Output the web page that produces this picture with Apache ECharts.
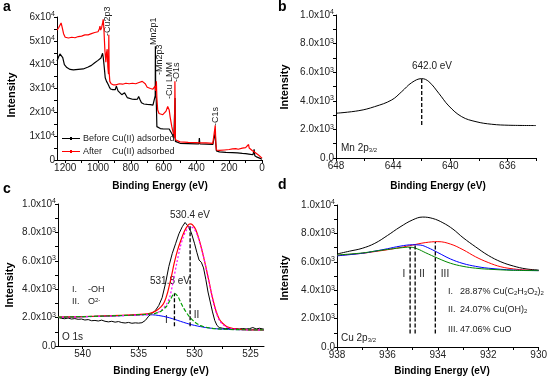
<!DOCTYPE html>
<html><head><meta charset="utf-8">
<script src="https://cdn.jsdelivr.net/npm/echarts@6/dist/echarts.min.js"></script>
<style>html,body{margin:0;padding:0;background:#fff}#c{width:550px;height:386px}</style>
</head><body><div id="c"></div>
<script>
// ---------- Panel a : survey spectra (intensity in 1e4 counts) ----------
const surveyBeforeE = [1250,1240,1232,1225,1215,1205,1190,1170,1150,1120,1090,1060,1040,1020,1000,990,982,976,972,968,962,956,948,940,932,924,910,895,888,884,878,870,855,845,838,832,822,810,790,775,760,752,745,735,720,700,680,665,656,651,650,648,645,641,636,620,600,580,566,556,546,538,532,530,528,522,500,450,400,385,382,379,340,300,290,285,282,278,260,220,180,150,120,100,80,55,48,44,30,15,5,0];
const surveyBeforeI = [4.15,4.33,4.45,4.52,4.3,4.0,3.88,3.8,3.78,3.8,3.82,3.9,3.97,4.08,4.18,4.22,4.28,4.2,4.48,4.3,3.9,3.45,3.3,3.2,3.08,2.98,2.95,2.95,3.1,3.18,2.9,2.85,2.74,2.72,2.82,2.78,2.62,2.57,2.55,2.54,2.55,2.66,2.55,2.4,2.35,2.33,2.32,2.3,2.33,2.7,4.77,2.7,2.6,1.4,1.33,1.32,1.3,1.3,1.3,1.25,1.06,0.9,0.85,2.6,0.78,0.72,0.7,0.69,0.68,0.68,0.92,0.68,0.67,0.65,0.66,1.15,0.7,0.38,0.34,0.32,0.31,0.3,0.28,0.27,0.25,0.22,0.45,0.18,0.12,0.08,0.05,0.03];
const surveyAfterE = [1250,1240,1232,1225,1218,1210,1200,1180,1160,1140,1120,1100,1080,1060,1040,1020,1000,992,988,984,978,972,968,964,958,952,948,944,940,936,934,932,928,920,905,890,870,850,830,810,790,770,750,730,720,712,700,680,665,655,652,648,644,641,636,628,618,605,595,585,575,570,566,560,550,540,533,531,528,520,500,450,400,380,340,300,290,285,282,278,260,230,200,180,160,150,145,120,100,90,82,78,60,40,20,10,0];
const surveyAfterI = [5.45,5.55,5.62,5.75,5.55,5.3,5.15,5.12,5.15,5.13,5.18,5.2,5.25,5.25,5.3,5.35,5.38,5.5,5.62,5.45,5.55,5.75,5.9,5.5,4.6,4.1,4.5,4.65,3.9,3.6,5.25,3.7,3.3,3.2,3.15,3.15,3.2,3.18,3.22,3.2,3.22,3.2,3.25,3.3,3.35,3.2,3.05,3.0,2.97,3.0,3.1,2.9,3.3,2.6,2.1,1.95,1.88,1.9,1.98,2.05,2.25,2.3,2.1,1.8,1.4,1.1,0.95,3.3,0.85,0.78,0.76,0.74,0.73,0.72,0.72,0.7,0.72,1.45,0.8,0.42,0.4,0.42,0.44,0.47,0.48,0.55,0.45,0.5,0.52,0.55,0.65,0.5,0.4,0.3,0.2,0.12,0.08];
const seriesNamesA = ['Before Cu(II) adsorbed', 'After    Cu(II) adsorbed'];
const peakLabelsA = ['-Cu2p3','Mn2p1','-Mn2p3','-Cu LMM','-O1s','-C1s'];

// ---------- Panel b : Mn 2p3/2 (intensity in 1e3) ----------
const mnE = [648,646.4,645.3,644.1,643.4,642.7,642.0,641.5,640.8,640.1,639.2,638.2,637.1,635.9,634];
const mnI = [3.13,3.31,3.59,4.06,4.64,5.27,5.55,5.34,4.52,3.64,2.89,2.54,2.36,2.29,2.27];
const mnPeakE = 642.0, mnPeakLow = 2.31, mnPeakHigh = 5.55;

// ---------- Panel c : O 1s (intensity in 1e3) ----------
const o1sExpE = [542.2,541.9,541.6,541.3,541,540.7,540.4,540.1,539.8,539.5,539.2,538.9,538.6,538.3,538,537.7,537.4,537.1,536.8,536.5,536.2,535.9,535.6,535.3,535,534.7,534.4,534.1,533.8,533.5,533.2,532.9,532.6,532.3,532,531.7,531.4,531.1,530.85,530.6,530.3,530,529.8,529.6,529.4,529.2,529,528.8,528.6,528.4,528.2,528,527.8,527.5,527.2,526.9,526.6,526.3,526,525.7,525.4,525.1,524.8,524.5,524.2,523.8];
const o1sExpI = [2.02,1.95,1.92,1.97,1.9,1.93,1.88,1.9,1.83,1.86,1.78,1.8,1.76,1.82,1.74,1.7,1.74,1.68,1.72,1.65,1.62,1.66,1.6,1.63,1.61,1.64,1.8,2.1,2.3,2.5,2.85,3.4,4.4,5.6,6.5,7.2,7.9,8.4,8.7,8.45,8.0,7.2,6.6,6.05,5.9,5.5,4.7,3.8,3.1,2.4,1.8,1.45,1.3,1.25,1.22,1.25,1.2,1.22,1.2,1.23,1.2,1.22,1.3,1.2,1.25,1.18];
const o1sFitE = [542.2,540,538,536,534.5,534,533.5,533,532.7,532.4,532.1,531.8,531.5,531.2,530.9,530.6,530.4,530.2,529.9,529.6,529.3,529,528.7,528.4,528.1,527.8,527.5,527.1,526.5,526,525,523.8];
const o1sFitI = [2.03,2.07,2.12,2.17,2.24,2.3,2.45,2.75,3.1,3.8,4.8,5.9,6.8,7.5,8.1,8.5,8.6,8.55,8.2,7.5,6.6,5.6,4.5,3.4,2.5,1.9,1.6,1.35,1.22,1.17,1.14,1.14];
const o1sPeak2E = [542.2,538,535,534,533.5,533,532.5,532.2,531.9,531.6,531.3,531,530.7,530.4,530.1,529.8,529.5,529.2,528.9,528.6,528.3,528,527.7,527.3,527,526.5,526,525,523.8];
const o1sPeak2I = [2.02,2.1,2.18,2.22,2.3,2.5,2.95,3.5,4.6,5.8,6.9,7.7,8.2,8.4,8.3,7.9,7.2,6.3,5.2,4.1,3.0,2.2,1.7,1.4,1.28,1.2,1.16,1.14,1.14];
const o1sPeak1E = [542.2,540,538,536,534.5,534,533.5,533,532.5,532.2,531.8,531.5,531.2,531,530.5,530,529.5,529,528.5,528,527,526,525,523.8];
const o1sPeak1I = [2.03,2.07,2.11,2.16,2.22,2.25,2.3,2.45,2.8,3.2,3.7,3.5,3.0,2.7,2.1,1.7,1.45,1.32,1.25,1.21,1.17,1.15,1.14,1.14];
const o1sBgE = [542.2,540,538,536,534.5,534,533.5,533,532.5,532,531.5,531,530.5,530,529.5,529,528.5,528,527,526,525,523.8];
const o1sBgI = [2.02,2.06,2.1,2.15,2.2,2.2,2.18,2.12,2.04,1.93,1.8,1.67,1.55,1.45,1.37,1.3,1.25,1.21,1.17,1.15,1.14,1.14];
const o1sMarkE = [531.8, 530.4];
const o1sMarkLow = [1.39, 1.39];
const o1sMarkHigh = [3.7, 8.55];
const o1sTexts = ['530.4 eV','531.8 eV','-OH'];

// ---------- Panel d : Cu 2p3/2 (intensity in 1e3) ----------
const cuTotE = [938,937.5,937,936.5,936,935.5,935,934.6,934.2,933.8,933.4,933,932.5,932,931.5,931,930.5,930];
const cuTotI = [6.55,6.75,6.95,7.3,7.85,8.45,8.95,9.15,9.05,8.75,8.3,7.7,7.05,6.45,6.0,5.7,5.5,5.42];
const cuOE = [938,937,936.5,936,935.5,935,934.5,934,933.5,933,932.5,932,931.5,931,930.5,930];
const cuOI = [6.45,6.6,6.72,6.85,7.0,7.18,7.35,7.42,7.25,6.85,6.35,5.95,5.65,5.5,5.42,5.38];
const cuOHE = [938,937,936.5,936,935.5,935,934.7,934.4,934,933.5,933,932.5,932,931,930];
const cuOHI = [6.42,6.6,6.75,6.92,7.1,7.2,7.18,7.0,6.65,6.2,5.88,5.68,5.55,5.42,5.38];
const cuAcE = [938,937,936.5,936,935.5,935.1,934.8,934.5,934,933.5,933,932.5,932,931,930];
const cuAcI = [6.48,6.62,6.75,6.87,6.98,7.03,6.9,6.65,6.25,5.9,5.68,5.55,5.48,5.4,5.38];
const cuMarkE = [935.1, 934.9, 934.1];
const cuMarkLow = [0.95, 0.95, 0.95];
const cuMarkHigh = [7.05, 7.2, 7.4];
const cuLegendNum = ['I.','II.','III.'];
const cuLegendTxt = ['28.87% Cu(C{s|2}H{s|3}O{s|2}){s|2}','24.07% Cu(OH){s|2}','47.06% CuO'];

// ---------- Tick values ----------
const ticksAx = [0,100,200,300,400,500,600,700,800,900,1000,1100,1200];
const labelsAx = [0,200,400,600,800,1000,1200];
const ticksAy = [0,5000,10000,15000,20000,25000,30000,35000,40000,45000,50000,55000,60000];
const labelsAy = [0,10000,20000,30000,40000,50000,60000];
const ticksBx = [634,636,638,640,642,644,646,648];
const labelsBx = [636,640,644,648];
const ticksCx = [525,527.5,530,532.5,535,537.5,540];
const labelsCx = [525,530,535,540];
const ticksDx = [930,931,932,933,934,935,936,937,938];
const labelsDx = [930,932,934,936,938];
const ticksY = [0,1000,2000,3000,4000,5000,6000,7000,8000,9000,10000];
const labelsY = [0,2000,4000,6000,8000,10000];

// ---------- helpers ----------
const FONT = 'Liberation Sans, Arial, sans-serif';
const pairs = (E, I, k) => E.map((e, i) => [e, I[i] * k]);
const supRich = { s: { fontSize: 7, verticalAlign: 'top', lineHeight: 12, fontFamily: FONT, color: '#222' } };
function xAxis(gi, min, max, ticks, labels) {
  return { type: 'value', gridIndex: gi, min, max, inverse: true,
    axisLine: { show: true, onZero: false, lineStyle: { color: '#000', width: 1 } },
    axisTick: { show: true, customValues: ticks, length: 3, lineStyle: { color: '#000' } },
    axisLabel: { customValues: labels, fontSize: 10, color: '#222', margin: 3, fontFamily: FONT, formatter: v => String(v) },
    splitLine: { show: false } };
}
function yAxis(gi, max, ticks, labels, fmt) {
  return { type: 'value', gridIndex: gi, min: 0, max,
    axisLine: { show: true, onZero: false, lineStyle: { color: '#000', width: 1 } },
    axisTick: { show: true, customValues: ticks, length: 3, lineStyle: { color: '#000' } },
    axisLabel: { customValues: labels, fontSize: 10, color: '#222', margin: 2, fontFamily: FONT, lineHeight: 12, formatter: fmt, rich: supRich },
    splitLine: { show: false } };
}
const fmtA = v => v === 0 ? '0' : (v / 10000) + 'x10{s|4}';
const fmtY = v => v === 0 ? '0.0' : (v === 10000 ? '1.0x10{s|4}' : (v / 1000).toFixed(1) + 'x10{s|3}');
function line(name, data, xi, color, opts) {
  return Object.assign({ name, type: 'line', xAxisIndex: xi, yAxisIndex: xi, data, symbol: 'none', showSymbol: false,
    lineStyle: { color, width: 1 }, itemStyle: { color }, silent: true, animation: false, z: 2 }, opts || {});
}
function vmark(name, xi, e, lo, hi, k) {
  return line(name, [[e, lo * k], [e, hi * k]], xi, '#000', { lineStyle: { color: '#000', width: 1.3, type: [4, 2] } });
}
function txt(t, x, y, o) {
  return Object.assign({ type: 'text', x, y, silent: true,
    style: Object.assign({ text: t, fontSize: 10, fontFamily: FONT, fill: '#222', align: 'left', verticalAlign: 'middle',
      rich: { s: { fontSize: 6, verticalAlign: 'bottom', fontFamily: FONT, fill: '#222' }, p: { fontSize: 6, verticalAlign: 'top', fontFamily: FONT, fill: '#222' } } }, (o && o.style) || {}) },
    o ? { rotation: o.rotation || 0 } : {});
}

const chart = echarts.init(document.getElementById('c'), null, { renderer: 'canvas' });
const series = [
  // panel a
  line(seriesNamesA[0], pairs(surveyBeforeE, surveyBeforeI, 10000), 0, '#000', { lineStyle: { color: '#000', width: 1.2 } }),
  line(seriesNamesA[1], pairs(surveyAfterE, surveyAfterI, 10000), 0, '#ff0000', { lineStyle: { color: '#ff0000', width: 1.2 } }),
  // panel b
  line('mn', pairs(mnE, mnI, 1000), 1, '#000', { smooth: 0.4 }),
  vmark('mnmark', 1, mnPeakE, mnPeakLow, mnPeakHigh, 1000),
  // panel c
  line('o1sExp', pairs(o1sExpE, o1sExpI, 1000), 2, '#000'),
  line('o1sBg', pairs(o1sBgE, o1sBgI, 1000), 2, '#0000ff', { smooth: 0.3 }),
  line('o1sFit', pairs(o1sFitE, o1sFitI, 1000), 2, '#ff0000', { smooth: 0.3, lineStyle: { color: '#ff0000', width: 1.2 } }),
  line('o1sP2', pairs(o1sPeak2E, o1sPeak2I, 1000), 2, '#ff00ff', { smooth: 0.3, lineStyle: { color: '#ff00ff', width: 1.2, type: [2, 2] } }),
  line('o1sP1', pairs(o1sPeak1E, o1sPeak1I, 1000), 2, '#00a000', { smooth: 0.3, lineStyle: { color: '#00a000', width: 1.2, type: [4, 2] } }),
  vmark('o1sm1', 2, o1sMarkE[0], o1sMarkLow[0], o1sMarkHigh[0], 1000),
  vmark('o1sm2', 2, o1sMarkE[1], o1sMarkLow[1], o1sMarkHigh[1], 1000),
  // panel d
  line('cuTot', pairs(cuTotE, cuTotI, 1000), 3, '#000', { smooth: 0.4 }),
  line('cuO', pairs(cuOE, cuOI, 1000), 3, '#ff0000', { smooth: 0.4 }),
  line('cuOH', pairs(cuOHE, cuOHI, 1000), 3, '#0000ff', { smooth: 0.4 }),
  line('cuAc', pairs(cuAcE, cuAcI, 1000), 3, '#008800', { smooth: 0.4 }),
  vmark('cum1', 3, cuMarkE[0], cuMarkLow[0], cuMarkHigh[0], 1000),
  vmark('cum2', 3, cuMarkE[1], cuMarkLow[1], cuMarkHigh[1], 1000),
  vmark('cum3', 3, cuMarkE[2], cuMarkLow[2], cuMarkHigh[2], 1000)
];

const graphics = [
  txt('a', 3, 7, { style: { fontSize: 14, fontWeight: 'bold', fill: '#000' } }),
  txt('b', 278, 7, { style: { fontSize: 14, fontWeight: 'bold', fill: '#000' } }),
  txt('c', 3, 189, { style: { fontSize: 14, fontWeight: 'bold', fill: '#000' } }),
  txt('d', 278, 185, { style: { fontSize: 14, fontWeight: 'bold', fill: '#000' } }),
  // axis titles
  txt('Binding Energy (eV)', 160, 186, { style: { fontSize: 10, fontWeight: 'bold', fill: '#000', align: 'center' } }),
  txt('Binding Energy (eV)', 438, 186, { style: { fontSize: 10, fontWeight: 'bold', fill: '#000', align: 'center' } }),
  txt('Binding Energy (eV)', 161, 371, { style: { fontSize: 10, fontWeight: 'bold', fill: '#000', align: 'center' } }),
  txt('Binding Energy (eV)', 442, 371, { style: { fontSize: 10, fontWeight: 'bold', fill: '#000', align: 'center' } }),
  txt('Intensity', 12, 95, { rotation: Math.PI / 2, style: { fontSize: 11, fontWeight: 'bold', fill: '#000', align: 'center' } }),
  txt('Intensity', 285, 87, { rotation: Math.PI / 2, style: { fontSize: 11, fontWeight: 'bold', fill: '#000', align: 'center' } }),
  txt('Intensity', 10, 285, { rotation: Math.PI / 2, style: { fontSize: 11, fontWeight: 'bold', fill: '#000', align: 'center' } }),
  txt('Intensity', 285, 278, { rotation: Math.PI / 2, style: { fontSize: 11, fontWeight: 'bold', fill: '#000', align: 'center' } }),
  // panel a peak labels
  txt(peakLabelsA[0], 108, 36, { rotation: Math.PI / 2, style: { fontSize: 9 } }),
  txt(peakLabelsA[1], 154, 45, { rotation: Math.PI / 2, style: { fontSize: 9 } }),
  txt(peakLabelsA[2], 160, 75, { rotation: Math.PI / 2, style: { fontSize: 9 } }),
  txt(peakLabelsA[3], 170, 99, { rotation: Math.PI / 2, style: { fontSize: 9 } }),
  txt(peakLabelsA[4], 176.5, 82, { rotation: Math.PI / 2, style: { fontSize: 9 } }),
  txt(peakLabelsA[5], 216, 126, { rotation: Math.PI / 2, style: { fontSize: 9 } }),
  // panel b
  txt('642.0 eV', 432, 66, { style: { align: 'center' } }),
  txt('Mn 2p{s|3/2}', 341, 148),
  // panel c
  txt(o1sTexts[0], 190, 215, { style: { align: 'center' } }),
  txt(o1sTexts[1], 170, 281, { style: { align: 'center' } }),
  txt('I.', 72, 290, { style: { fontSize: 9 } }),
  txt(o1sTexts[2], 88, 290, { style: { fontSize: 9 } }),
  txt('II.', 72, 302, { style: { fontSize: 9 } }),
  txt('O{p|2-}', 88, 302, { style: { fontSize: 9 } }),
  txt('I', 165, 320),
  txt('II', 196.5, 315, { style: { align: 'center' } }),
  txt('O 1s', 62, 337),
  // panel d
  txt('I', 404, 274, { style: { align: 'center' } }),
  txt('II', 422, 274, { style: { align: 'center' } }),
  txt('III', 445, 274, { style: { align: 'center' } }),
  txt(cuLegendNum[0], 448, 292, { style: { fontSize: 9 } }),
  txt(cuLegendTxt[0], 460, 292, { style: { fontSize: 9 } }),
  txt(cuLegendNum[1], 448, 310, { style: { fontSize: 9 } }),
  txt(cuLegendTxt[1], 460, 310, { style: { fontSize: 9 } }),
  txt(cuLegendNum[2], 448, 330, { style: { fontSize: 9 } }),
  txt(cuLegendTxt[2], 460, 330, { style: { fontSize: 9 } }),
  txt('Cu 2p{s|3/2}', 341, 338)
];

chart.setOption({
  animation: false,
  backgroundColor: '#fff',
  textStyle: { fontFamily: FONT },
  grid: [
    { left: 57, top: 17, width: 205, height: 143 },
    { left: 336, top: 15, width: 200, height: 143 },
    { left: 58, top: 204, width: 206, height: 142 },
    { left: 337, top: 205, width: 211, height: 142 }
  ],
  xAxis: [
    xAxis(0, 0, 1250, ticksAx, labelsAx),
    xAxis(1, 634, 648, ticksBx, labelsBx),
    xAxis(2, 523.8, 542.2, ticksCx, labelsCx),
    xAxis(3, 930, 938, ticksDx, labelsDx)
  ],
  yAxis: [
    yAxis(0, 60000, ticksAy, labelsAy, fmtA),
    yAxis(1, 10000, ticksY, labelsY, fmtY),
    yAxis(2, 10000, ticksY, labelsY, fmtY),
    yAxis(3, 10000, ticksY, labelsY, fmtY)
  ],
  legend: {
    data: seriesNamesA, orient: 'vertical', left: 62, top: 134, itemGap: 4, itemWidth: 18, itemHeight: 5,
    icon: 'path://M0,2 L18,2 L18,3 L0,3 Z M8,1 L10,1 L10,4 L8,4 Z',
    textStyle: { fontSize: 9, color: '#222', fontFamily: FONT, padding: [0, 0, 0, -2] }, selectedMode: false, padding: 0
  },
  series,
  graphic: graphics
});
</script></body></html>
